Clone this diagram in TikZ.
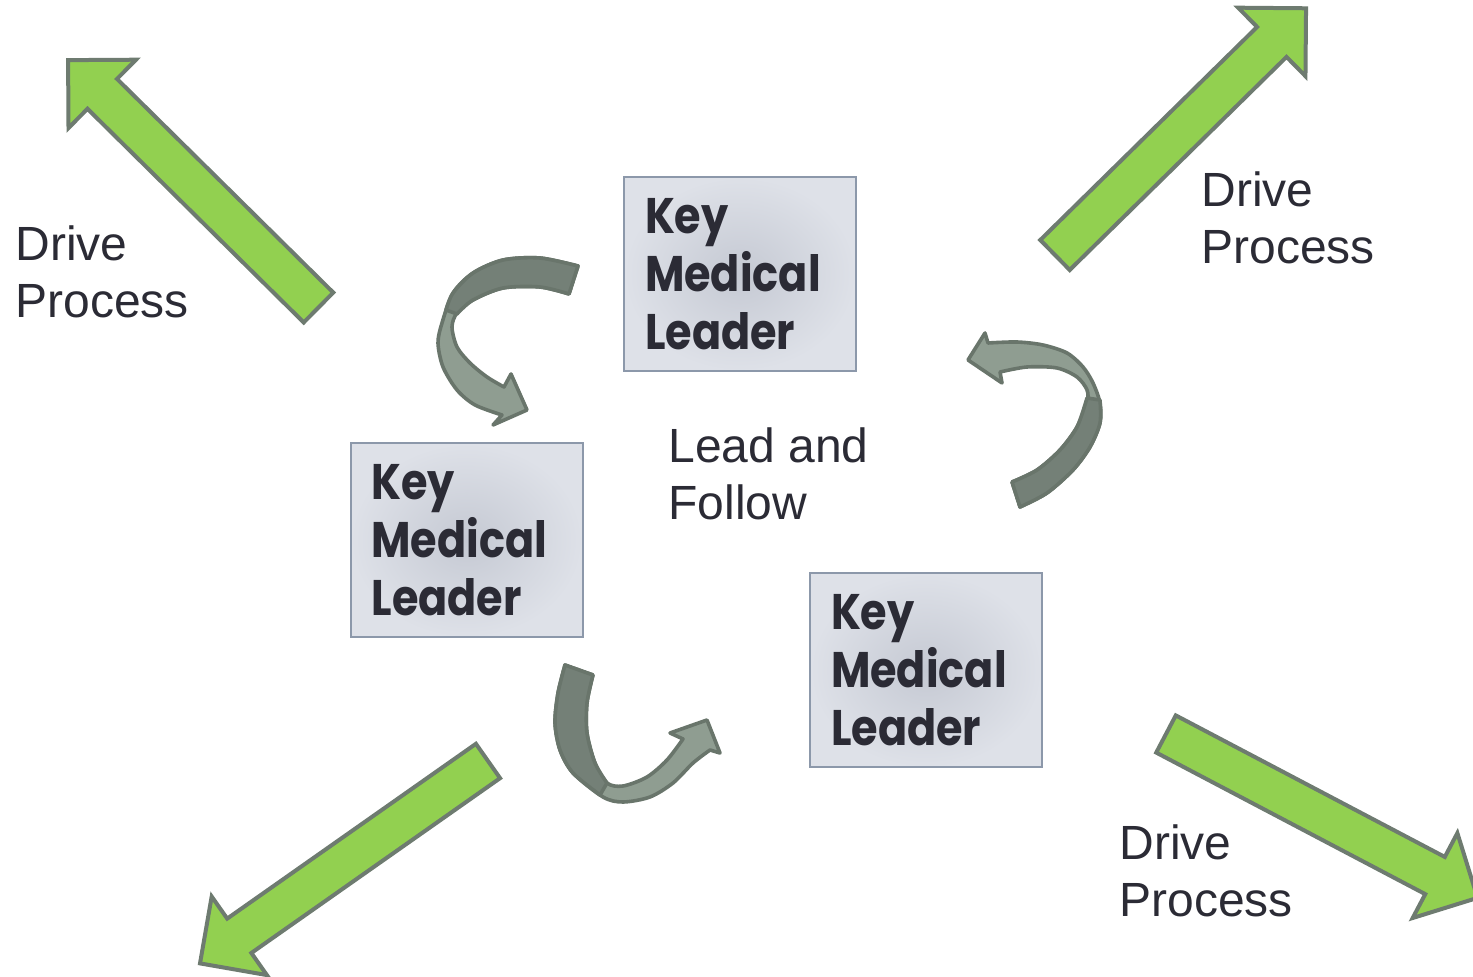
\documentclass[tikz,border=0pt]{standalone}
\usepackage{fontspec}
\setmainfont{Liberation Sans}
\newfontfamily\keyfont{Poppins}[FakeStretch=0.86]

\definecolor{drivegreen}{HTML}{92D050}
\definecolor{arrowrim}{HTML}{6E7B70}
\definecolor{ribbondark}{HTML}{748077}
\definecolor{ribbonlight}{HTML}{8F9D91}
\definecolor{ribbonrim}{HTML}{69756B}
\definecolor{boxrim}{HTML}{8C98AA}
\definecolor{boxin}{HTML}{C5C9D3}
\definecolor{boxout}{HTML}{DEE1E8}
\definecolor{inktext}{HTML}{2B2B35}

\tikzset{
  keybox/.style={draw=boxrim,line width=1pt,shading=radial,inner color=boxin,outer color=boxout,
    minimum width=116pt,minimum height=97pt,text width=95pt,inner xsep=10.5pt,align=left,
    font=\keyfont\bfseries\fontsize{25}{29}\selectfont,text=inktext},
  drivetext/.style={font=\fontsize{24}{28.5}\selectfont,text=inktext,align=left,inner sep=0pt,anchor=base west},
  blockarrow/.style={draw=arrowrim,fill=drivegreen,line width=2pt,line join=miter},
  ribbon/.style={draw=ribbonrim,line width=1.8pt,line join=round}
}

\begin{document}
\begin{tikzpicture}[x=0.5pt,y=-0.5pt]
\useasboundingbox (0,0) rectangle (1473,977);

\node[keybox] (kmlTop)   at (740,274)   {Key\\Medical\\Leader};
\node[keybox] (kmlLeft)  at (466.5,540.5) {Key\\Medical\\Leader};
\node[keybox] (kmlRight) at (926,670.5) {Key\\Medical\\Leader};

\foreach \x/\y/\ang in {318.5/307.5/135.35,1055/255/44.5,1166/734/-27.75,488/761/215.1}
  \draw[blockarrow,shift={(\x,\y)},rotate=\ang]
    (0,-21) -- (304,-21) -- (304,-48) -- (352,0) -- (304,48) -- (304,21) -- (0,21) -- cycle;

% base of the last line
\node[drivetext] (dpTL) at (15,318)   {Drive\\Process};
\node[drivetext] (dpTR) at (1201,264) {Drive\\Process};
\node[drivetext] (dpBR) at (1119,917) {Drive\\Process};
\node[drivetext] (lf)   at (668,520)  {Lead and\\Follow};

% top ribbon
\filldraw[ribbon,fill=ribbonlight] plot[smooth] coordinates {(578,266) (540,258) (503,260) (473,273) (453,293) (442,323) (438,343) (443,367) (457,390) (475,405) (502,415)}
  -- (493,425) -- (527,410) -- (511,374) -- (504,387)
  -- plot[smooth] coordinates {(504,387) (487,377) (470,363) (457,347) (452,327) (457,313) (473,300) (503,288) (540,287) (569,294)} -- cycle;
\filldraw[ribbon,fill=ribbondark] plot[smooth] coordinates {(578,266) (540,258) (503,260) (473,273) (453,293) (446,310)}
  -- plot[smooth] coordinates {(457,314) (473,300) (503,288) (540,287) (569,294)} -- cycle;

% right ribbon
\filldraw[ribbon,fill=ribbonlight] plot[smooth] coordinates {(1020,507) (1047,493) (1073,470) (1090,447) (1100,423) (1100,403) (1093,383) (1083,367) (1067,353) (1043,345) (1017,342) (988,343)}
  -- (985,333) -- (968,360) -- (1002,383) -- (1000,372)
  -- plot[smooth] coordinates {(1000,372) (1027,367) (1057,368) (1077,377) (1087,390) (1087,403) (1077,427) (1060,450) (1037,470) (1012,482)} -- cycle;
\filldraw[ribbon,fill=ribbondark] plot[smooth] coordinates {(1020,507) (1047,493) (1073,470) (1090,447) (1100,423) (1100,400)}
  -- plot[smooth] coordinates {(1087,398) (1077,427) (1060,450) (1037,470) (1012,482)} -- cycle;

% bottom ribbon
\filldraw[ribbon,fill=ribbonlight] plot[smooth] coordinates {(565,665) (558,693) (555,723) (560,750) (573,773) (603,797) (623,802) (650,797) (673,783) (693,763) (710,750)}
  -- (720,753) -- (707,720) -- (670,733) -- (683,739)
  -- plot[smooth] coordinates {(683,739) (667,760) (647,777) (623,786) (607,783) (595,763) (587,733) (587,703) (593,675)} -- cycle;
\filldraw[ribbon,fill=ribbondark] plot[smooth] coordinates {(565,665) (558,693) (555,723) (560,750) (573,773) (600,795)}
  -- plot[smooth] coordinates {(607,783) (595,763) (587,733) (587,703) (593,675)} -- cycle;
\end{tikzpicture}
\end{document}
